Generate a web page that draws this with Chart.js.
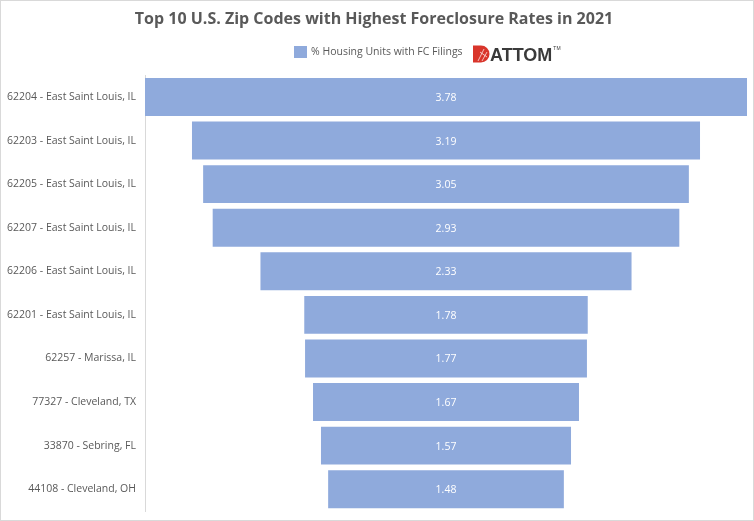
<!DOCTYPE html>
<html>
<head>
<meta charset="utf-8">
<script src="https://cdn.jsdelivr.net/npm/chart.js@4.4.1/dist/chart.umd.min.js"></script>
<style>
  html, body { margin: 0; padding: 0; background: #fff; }
  #wrap { position: relative; width: 754px; height: 521px; box-sizing: border-box; border: 1px solid #d9d9d9; }
</style>
</head>
<body>
<div id="wrap"><canvas id="c"></canvas></div>
<script>
const titleText = 'Top 10 U.S. Zip Codes with Highest Foreclosure Rates in 2021';
const seriesName = '% Housing Units with FC Filings';
const categories = [
  '62204 - East Saint Louis, IL',
  '62203 - East Saint Louis, IL',
  '62205 - East Saint Louis, IL',
  '62207 - East Saint Louis, IL',
  '62206 - East Saint Louis, IL',
  '62201 - East Saint Louis, IL',
  '62257 - Marissa, IL',
  '77327 - Cleveland, TX',
  '33870 - Sebring, FL',
  '44108 - Cleveland, OH'
];
const values = [3.78, 3.19, 3.05, 2.93, 2.33, 1.78, 1.77, 1.67, 1.57, 1.48];

const FONT = "'Open Sans', sans-serif";
const GREY = '#595959';
const BAR = '#8FAADC';
const maxV = Math.max(...values);

const funnelData = values.map(v => [-v / 2, v / 2]);

const valueLabels = {
  id: 'valueLabels',
  afterDatasetsDraw(chart) {
    const ctx = chart.ctx;
    const meta = chart.getDatasetMeta(0);
    ctx.save();
    ctx.fillStyle = '#ffffff';
    ctx.font = "10.5px " + FONT;
    ctx.textAlign = 'center';
    ctx.textBaseline = 'middle';
    meta.data.forEach((bar, i) => {
      const cx = (bar.x + bar.base) / 2;
      ctx.fillText(values[i].toFixed(2), cx, bar.y + 1);
    });
    ctx.restore();
  }
};

const legendAndLogo = {
  id: 'legendAndLogo',
  afterDraw(chart) {
    const ctx = chart.ctx;
    ctx.save();
    // legend swatch and label (canvas coords: page x - 1)
    const lx = 293, ly = 45;
    ctx.fillStyle = BAR;
    ctx.fillRect(lx, ly, 13, 12);
    ctx.fillStyle = GREY;
    ctx.font = "10.5px " + FONT;
    ctx.textAlign = 'left';
    ctx.textBaseline = 'middle';
    ctx.fillText(seriesName, lx + 17, ly + 6.5);

    // ATTOM logo
    const x = 472, cy = 53;
    ctx.fillStyle = '#D9352B';
    ctx.beginPath();
    ctx.moveTo(x, cy - 8.5);
    ctx.lineTo(x + 8, cy - 8.5);
    ctx.arc(x + 8, cy, 8.5, -Math.PI / 2, Math.PI / 2);
    ctx.lineTo(x, cy + 8.5);
    ctx.closePath();
    ctx.fill();
    ctx.strokeStyle = 'rgba(255,255,255,0.85)';
    ctx.lineWidth = 0.8;
    ctx.beginPath();
    ctx.moveTo(x + 5, cy + 7); ctx.lineTo(x + 11, cy - 5);
    ctx.moveTo(x + 9, cy + 7); ctx.lineTo(x + 14, cy - 2);
    ctx.moveTo(x + 7, cy - 2); ctx.lineTo(x + 14, cy + 3);
    ctx.stroke();
    ctx.fillStyle = '#3a3a3a';
    ctx.font = "bold 18px 'Liberation Sans', Arial, sans-serif";
    ctx.textBaseline = 'alphabetic';
    ctx.fillText('ATTOM', x + 17, cy + 6.5);
    const w = ctx.measureText('ATTOM').width;
    ctx.font = "5px 'Liberation Sans', sans-serif";
    ctx.fillText('TM', x + 18 + w, cy - 4);
    ctx.restore();
  }
};

new Chart(document.getElementById('c'), {
  type: 'bar',
  data: {
    labels: categories,
    datasets: [{
      label: seriesName,
      data: funnelData,
      backgroundColor: BAR,
      borderWidth: 0,
      borderSkipped: false,
      barPercentage: 0.87,
      categoryPercentage: 1.0
    }]
  },
  options: {
    indexAxis: 'y',
    responsive: true,
    maintainAspectRatio: false,
    animation: false,
    layout: { padding: { left: 0, right: 6, top: 0, bottom: 9 } },
    scales: {
      x: { display: false, min: -maxV / 2, max: maxV / 2 },
      y: {
        grid: { display: false, drawTicks: false },
        border: { display: true, color: '#d9d9d9', width: 1 },
        ticks: { color: GREY, font: { family: FONT, size: 10.5 }, padding: 9 },
        afterFit(scale) {
          scale.width = 144;
          scale.paddingTop = 0; scale.paddingBottom = 0;
          scale.paddingLeft = 0; scale.paddingRight = 0;
        }
      }
    },
    plugins: {
      title: {
        display: true,
        text: titleText,
        color: GREY,
        font: { family: FONT, size: 16, weight: 'bold' },
        padding: { top: 9, bottom: 46 }
      },
      legend: { display: false },
      tooltip: { enabled: false }
    }
  },
  plugins: [valueLabels, legendAndLogo]
});
</script>
</body>
</html>
